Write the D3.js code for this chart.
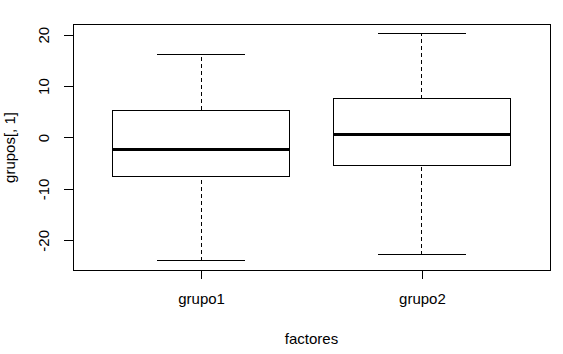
<!DOCTYPE html>
<html>
<head>
<meta charset="utf-8">
<script src="https://cdn.jsdelivr.net/npm/d3@7"></script>
<style>
  body { margin: 0; background: #fff; }
  text { font-family: "Liberation Sans", Arial, sans-serif; fill: #000; }
</style>
</head>
<body>
<div id="chart"></div>
<script>
// Data
const groups = ['grupo1', 'grupo2'];
const lowerWhisker = [-24.0, -22.85];
const q1 = [-7.55, -5.45];
const medians = [-2.3, 0.6];
const q3 = [5.25, 7.55];
const upperWhisker = [16.2, 20.3];
const yTicks = [-20, -10, 0, 10, 20];

const width = 563, height = 354;
const margin = { top: 24, right: 13, bottom: 84, left: 73 };
const plotW = width - margin.left - margin.right;
const plotH = height - margin.top - margin.bottom;

const svg = d3.select('#chart').append('svg')
  .attr('width', width)
  .attr('height', height);

// R style 4% axis extension
const dataMin = d3.min(lowerWhisker), dataMax = d3.max(upperWhisker);
const pad = (dataMax - dataMin) * 0.04;
const y = d3.scaleLinear()
  .domain([dataMin - pad, dataMax + pad])
  .range([margin.top + plotH, margin.top]);

const x = d3.scaleLinear()
  .domain([0.5 - 0.08, 2.5 + 0.08])
  .range([margin.left, margin.left + plotW]);

const boxW = 0.8;

const rows = groups.map((g, i) => ({
  name: g, pos: i + 1,
  lo: lowerWhisker[i], q1: q1[i], med: medians[i], q3: q3[i], hi: upperWhisker[i]
}));

const g = svg.append('g').attr('shape-rendering', 'crispEdges');

// whiskers (dashed)
g.selectAll('.whisk-lo')
  .data(rows).enter().append('line')
  .attr('x1', d => x(d.pos)).attr('x2', d => x(d.pos))
  .attr('y1', d => y(d.lo)).attr('y2', d => y(d.q1))
  .attr('stroke', '#000').attr('stroke-dasharray', '4,3');
g.selectAll('.whisk-hi')
  .data(rows).enter().append('line')
  .attr('x1', d => x(d.pos)).attr('x2', d => x(d.pos))
  .attr('y1', d => y(d.q3)).attr('y2', d => y(d.hi))
  .attr('stroke', '#000').attr('stroke-dasharray', '4,3');

// caps
['lo', 'hi'].forEach(k => {
  g.selectAll('.cap-' + k)
    .data(rows).enter().append('line')
    .attr('x1', d => x(d.pos - boxW / 4)).attr('x2', d => x(d.pos + boxW / 4))
    .attr('y1', d => y(d[k])).attr('y2', d => y(d[k]))
    .attr('stroke', '#000');
});

// boxes
g.selectAll('.box')
  .data(rows).enter().append('rect')
  .attr('x', d => x(d.pos - boxW / 2))
  .attr('width', d => x(d.pos + boxW / 2) - x(d.pos - boxW / 2))
  .attr('y', d => y(d.q3))
  .attr('height', d => y(d.q1) - y(d.q3))
  .attr('fill', 'none').attr('stroke', '#000');

// medians
g.selectAll('.median')
  .data(rows).enter().append('line')
  .attr('x1', d => x(d.pos - boxW / 2)).attr('x2', d => x(d.pos + boxW / 2))
  .attr('y1', d => y(d.med)).attr('y2', d => y(d.med))
  .attr('stroke', '#000').attr('stroke-width', 3);

// plot frame
g.append('rect')
  .attr('x', margin.left).attr('y', margin.top)
  .attr('width', plotW).attr('height', plotH)
  .attr('fill', 'none').attr('stroke', '#000');

// y axis
const yAxis = svg.append('g')
  .attr('transform', `translate(${margin.left},0)`)
  .call(d3.axisLeft(y).tickValues(yTicks).tickSize(9).tickPadding(0).tickFormat(d3.format('d')));
yAxis.select('.domain').attr('shape-rendering', 'crispEdges');
yAxis.selectAll('.tick line').attr('shape-rendering', 'crispEdges');
yAxis.selectAll('.tick text')
  .attr('font-size', 15)
  .attr('font-family', '"Liberation Sans", Arial, sans-serif')
  .attr('x', -28).attr('dy', 0)
  .attr('text-anchor', 'middle')
  .attr('dominant-baseline', 'middle')
  .attr('transform', 'rotate(-90,-28,0)')
  .text(d => d < 0 ? '-' + Math.abs(d) : d);
yAxis.select('.domain').attr('d', `M-9,${y(-20)}H0.5V${y(20)}H-9`).attr('d', `M0.5,${y(-20)}V${y(20)}`);

// x axis
const xAxis = svg.append('g')
  .attr('transform', `translate(0,${margin.top + plotH})`)
  .call(d3.axisBottom(x).tickValues([1, 2]).tickSize(9).tickPadding(14)
    .tickFormat(d => groups[d - 1]));
xAxis.select('.domain').attr('d', `M${x(1)},0.5H${x(2)}`).attr('shape-rendering', 'crispEdges');
xAxis.selectAll('.tick line').attr('shape-rendering', 'crispEdges');
xAxis.selectAll('.tick text')
  .attr('font-size', 15)
  .attr('font-family', '"Liberation Sans", Arial, sans-serif');

// axis titles
svg.append('text')
  .attr('x', x(1.5)).attr('y', 344)
  .attr('text-anchor', 'middle')
  .attr('font-size', 15)
  .text('factores');

svg.append('text')
  .attr('transform', `translate(15,${y(0) + 10}) rotate(-90)`)
  .attr('text-anchor', 'middle')
  .attr('font-size', 15)
  .text('grupos[, 1]');
</script>
</body>
</html>
